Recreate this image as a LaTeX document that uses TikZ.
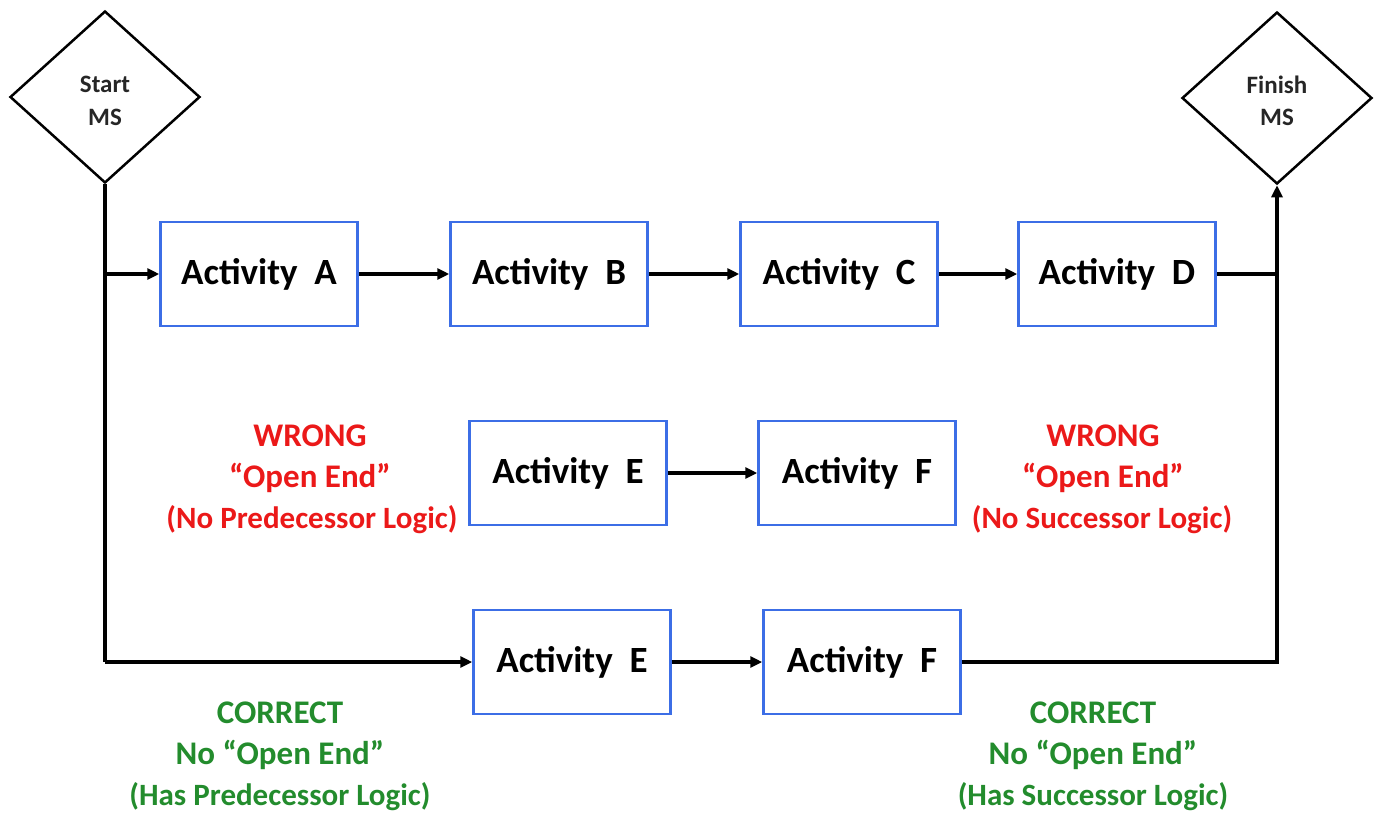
\documentclass[tikz,border=0pt]{standalone}
\usepackage{fontspec}
\setmainfont{Carlito}
\usetikzlibrary{shapes.geometric,arrows.meta}
\definecolor{boxblue}{RGB}{60,110,230}
\definecolor{wrongred}{RGB}{235,25,25}
\definecolor{okgreen}{RGB}{35,140,45}
\tikzset{
  actbox/.style={draw=boxblue,line width=2.5pt,minimum width=197pt,minimum height=104pt,inner sep=0pt,font=\fontsize{37}{42}\selectfont\bfseries},
  ms/.style={draw=black,line width=2.5pt,diamond,minimum width=190pt,minimum height=172pt,inner sep=0pt},
  mstext/.style={inner sep=0pt,anchor=base,font=\fontsize{25}{30}\selectfont\bfseries,text=black!85},
  conn/.style={line width=3.5pt,-{Triangle[length=12pt,width=11pt]}},
  plain/.style={line width=3.5pt},
  big/.style={inner sep=0pt,anchor=base,font=\fontsize{33}{40}\selectfont\bfseries},
  small/.style={inner sep=0pt,anchor=base,font=\fontsize{31}{40}\selectfont\bfseries},
}
\begin{document}
\begin{tikzpicture}[x=1pt,y=-1pt]
\useasboundingbox (0,0) rectangle (1379,812);
\node[ms] (start) at (105,97) {};
\node[mstext] (st1) at (105,92) {Start};
\node[mstext] (st2) at (105,125) {MS};
\node[ms] (finish) at (1277,98) {};
\node[mstext] (fi1) at (1277,93) {Finish};
\node[mstext] (fi2) at (1277,125) {MS};
\node[actbox] (A) at (259,274) {Activity\ \ A};
\node[actbox] (B) at (549,274) {Activity\ \ B};
\node[actbox] (C) at (839,274) {Activity\ \ C};
\node[actbox] (D) at (1117,274) {Activity\ \ D};
\node[actbox] (E1) at (568,473) {Activity\ \ E};
\node[actbox] (F1) at (857,473) {Activity\ \ F};
\node[actbox] (E2) at (572,662) {Activity\ \ E};
\node[actbox] (F2) at (862,662) {Activity\ \ F};
\coordinate (sb) at (105,662);
\coordinate (sa) at (105,274);
\coordinate (fa) at (1277,274);
\coordinate (fb) at (1277,662);
\draw[plain] (start.south) -- (sb);
\draw[conn] (sb) -- (E2.west);
\draw[conn] (sa) -- (A.west);
\draw[conn] (A) -- (B);
\draw[conn] (B) -- (C);
\draw[conn] (C) -- (D);
\draw[plain] (D.east) -- (fa);
\draw[conn] (E1) -- (F1);
\draw[conn] (E2) -- (F2);
\draw[conn] (F2.east) -- (fb) -- (finish.south);
% wrong labels
\node[big,text=wrongred] (w1a) at (310,446) {WRONG};
\node[big,text=wrongred] (w1b) at (310,487) {``Open End''};
\node[small,text=wrongred] (w1c) at (312,528) {(No Predecessor Logic)};
\node[big,text=wrongred] (w2a) at (1103,446) {WRONG};
\node[big,text=wrongred] (w2b) at (1103,487) {``Open End''};
\node[small,text=wrongred] (w2c) at (1102,528) {(No Successor Logic)};
% correct labels
\node[big,text=okgreen] (c1a) at (280,723) {CORRECT};
\node[big,text=okgreen] (c1b) at (280,764) {No ``Open End''};
\node[small,text=okgreen] (c1c) at (280,805) {(Has Predecessor Logic)};
\node[big,text=okgreen] (c2a) at (1093,723) {CORRECT};
\node[big,text=okgreen] (c2b) at (1093,764) {No ``Open End''};
\node[small,text=okgreen] (c2c) at (1093,805) {(Has Successor Logic)};
\end{tikzpicture}
\end{document}
